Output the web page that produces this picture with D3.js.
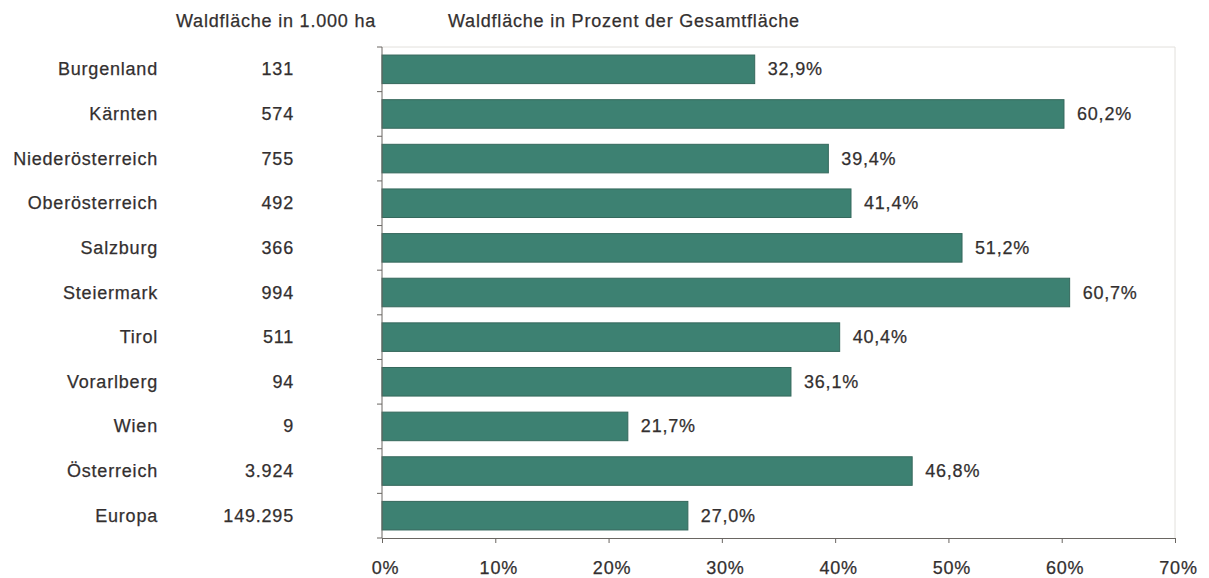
<!DOCTYPE html>
<html>
<head>
<meta charset="utf-8">
<script src="https://cdn.jsdelivr.net/npm/d3@7"></script>
<style>
  html, body { margin: 0; padding: 0; background: #ffffff; }
  svg text { font-family: "Liberation Sans", Arial, sans-serif; fill: #332f2f; stroke: #332f2f; stroke-width: 0.25px; }
</style>
</head>
<body>
<svg id="chart" width="1209" height="578"></svg>
<script>
// Forest area per Austrian federal state, Austria and Europe
const regions = ["Burgenland", "Kärnten", "Niederösterreich", "Oberösterreich", "Salzburg",
  "Steiermark", "Tirol", "Vorarlberg", "Wien", "Österreich", "Europa"];
const areaLabels = ["131", "574", "755", "492", "366", "994", "511", "94", "9", "3.924", "149.295"];
const forestShare = [32.9, 60.2, 39.4, 41.4, 51.2, 60.7, 40.4, 36.1, 21.7, 46.8, 27.0];
const xTicks = [0, 10, 20, 30, 40, 50, 60, 70];

const svg = d3.select("#chart");
const plot = { left: 382, right: 1175, top: 47, bottom: 538 };

const x = d3.scaleLinear().domain([0, 70]).range([plot.left, plot.right]);
const y = d3.scaleBand().domain(regions).range([plot.top, plot.bottom]).paddingInner(0.36).paddingOuter(0.18);

const fmtPct = v => d3.format(".1f")(v).replace(".", ",") + "%";
const textStyle = sel => sel.attr("font-size", 18).attr("letter-spacing", "0.8px");

// faint frame around the plot area (top and right)
svg.append("path")
  .attr("d", `M${plot.left},${plot.top}H${plot.right}V${plot.bottom}`)
  .attr("fill", "none").attr("stroke", "#e2e0dc").attr("stroke-width", 1);

// column headers
svg.append("text").attr("x", 176).attr("y", 27).text("Waldfläche in 1.000 ha").call(textStyle);
svg.append("text").attr("x", 448).attr("y", 27).text("Waldfläche in Prozent der Gesamtfläche").call(textStyle);

// bars
svg.append("g").selectAll("rect").data(forestShare).join("rect")
  .attr("x", x(0))
  .attr("y", (d, i) => y(regions[i]))
  .attr("width", d => x(d) - x(0))
  .attr("height", y.bandwidth())
  .attr("fill", "#3d8172")
  .attr("stroke", "#35685c")
  .attr("stroke-width", 1);

// value labels
svg.append("g").selectAll("text").data(forestShare).join("text")
  .attr("x", d => x(d) + 13)
  .attr("y", (d, i) => y(regions[i]) + y.bandwidth() / 2 + 6)
  .text(d => fmtPct(d))
  .call(textStyle);

// region names
svg.append("g").selectAll("text").data(regions).join("text")
  .attr("x", 158)
  .attr("y", d => y(d) + y.bandwidth() / 2 + 6)
  .attr("text-anchor", "end")
  .text(d => d)
  .call(textStyle);

// forest area in 1,000 ha
svg.append("g").selectAll("text").data(areaLabels).join("text")
  .attr("x", 294)
  .attr("y", (d, i) => y(regions[i]) + y.bandwidth() / 2 + 6)
  .attr("text-anchor", "end")
  .text(d => d)
  .call(textStyle);

// left axis with separator ticks between categories
const bounds = d3.range(regions.length + 1).map(i => plot.top + i * (plot.bottom - plot.top) / regions.length);
const yAxis = svg.append("g");
yAxis.append("line").attr("x1", plot.left).attr("x2", plot.left)
  .attr("y1", plot.top).attr("y2", plot.bottom).attr("stroke", "#6a6662");
yAxis.selectAll("line.tick").data(bounds).join("line").attr("class", "tick")
  .attr("x1", plot.left - 5).attr("x2", plot.left)
  .attr("y1", d => d).attr("y2", d => d).attr("stroke", "#6a6662");

// bottom axis
const xAxis = svg.append("g").attr("transform", `translate(0,${plot.bottom})`)
  .call(d3.axisBottom(x).tickValues(xTicks).tickSize(5).tickPadding(18).tickFormat(d => d + "%"));
xAxis.select(".domain").attr("stroke", "#6a6662");
xAxis.selectAll(".tick line").attr("stroke", "#6a6662");
xAxis.selectAll(".tick text")
  .attr("font-family", "'Liberation Sans', Arial, sans-serif")
  .attr("font-size", 18).attr("letter-spacing", "0.8px")
  .attr("fill", "#332f2f")
  .attr("dx", 3);
</script>
</body>
</html>
